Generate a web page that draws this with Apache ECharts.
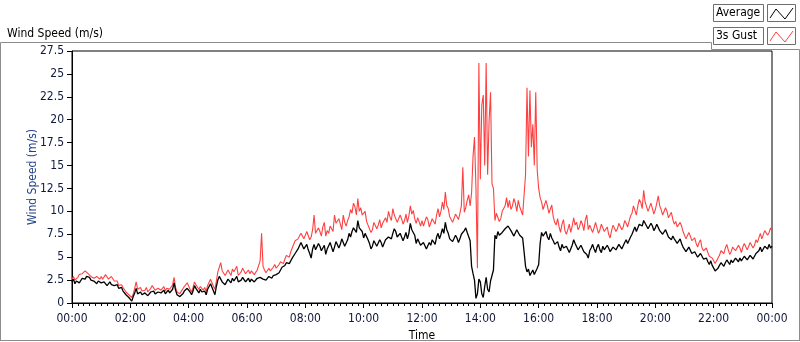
<!DOCTYPE html>
<html>
<head>
<meta charset="utf-8">
<script src="https://cdn.jsdelivr.net/npm/echarts@6/dist/echarts.min.js"></script>
<style>
  html, body { margin: 0; padding: 0; background: #fff; }
  #chart { width: 800px; height: 342px; }
</style>
</head>
<body>
<div id="chart"></div>
<script>
// one sample every 3 minutes, 00:00 .. 24:00 (20 per hour)
var times = [];
for (var i = 0; i <= 480; i++) times.push(i / 20);

var xTicks = ['00:00', '02:00', '04:00', '06:00', '08:00', '10:00', '12:00',
  '14:00', '16:00', '18:00', '20:00', '22:00', '00:00'];

var average = [
  2.3, 2.6, 2.1, 2.4, 2.5, 2.2, 2.4, 2.7, 2.8, 2.6, 2.9, 3.0, 2.8, 2.5, 2.6, 2.4, 2.3, 2.1, 2.4, 2.3,
  2.2, 2.0, 2.3, 2.4, 1.9, 2.1, 2.3, 2.0, 2.2, 1.9, 1.8, 2.0, 1.6, 1.8, 1.7, 1.3, 1.2, 0.9, 0.8, 0.6,
  0.4, 0.2, 0.7, 1.1, 1.6, 1.0, 0.9, 1.2, 0.9, 0.7, 1.1, 1.3, 0.8, 1.0, 1.2, 1.4, 1.3, 1.0, 1.0, 1.2,
  1.3, 1.1, 1.2, 1.4, 1.0, 1.2, 1.4, 1.1, 1.2, 1.5, 2.2, 1.4, 0.9, 1.1, 0.7, 0.9, 1.0, 1.3, 1.2, 1.6,
  1.5, 1.2, 0.9, 1.3, 1.9, 1.6, 1.4, 1.1, 1.5, 1.2, 1.0, 1.3, 0.9, 1.5, 1.7, 2.1, 2.0, 1.3, 0.9, 1.8,
  2.5, 2.9, 2.7, 2.3, 2.4, 2.0, 2.2, 2.6, 2.5, 2.2, 2.7, 2.4, 2.6, 2.9, 2.3, 2.1, 2.5, 2.8, 2.6, 2.3,
  2.5, 2.7, 2.3, 2.6, 2.6, 2.3, 2.4, 2.7, 2.5, 2.8, 2.9, 2.6, 2.8, 2.5, 2.6, 2.9, 2.9, 2.7, 3.0, 3.2,
  3.1, 2.9, 3.3, 3.6, 3.9, 3.7, 4.1, 4.4, 4.6, 4.3, 4.5, 4.9, 5.1, 5.4, 5.6, 5.9, 6.1, 6.6, 6.4, 5.9,
  6.0, 6.4, 5.8, 5.4, 4.9, 5.9, 6.4, 5.8, 6.0, 6.5, 6.2, 5.7, 5.8, 6.3, 5.3, 5.9, 6.0, 6.6, 6.1, 5.6,
  6.1, 6.7, 6.5, 6.0, 6.4, 7.0, 6.6, 6.2, 6.3, 6.9, 7.6, 7.2, 7.8, 8.2, 8.3, 7.7, 9.0, 8.2, 8.4, 7.8,
  7.1, 7.6, 7.4, 6.9, 6.5, 5.9, 6.2, 6.8, 6.8, 6.2, 6.4, 6.9, 6.6, 6.1, 6.3, 6.9, 6.7, 7.2, 7.4, 7.0,
  7.6, 8.1, 7.8, 7.2, 7.0, 7.6, 7.4, 6.8, 7.2, 7.7, 7.0, 7.6, 8.7, 8.0, 8.2, 7.4, 6.5, 7.0, 6.8, 6.3,
  6.1, 6.6, 6.5, 5.9, 6.0, 6.6, 6.3, 6.9, 6.8, 6.4, 7.2, 7.6, 7.0, 7.5, 8.1, 7.6, 8.8, 8.0, 7.6, 7.0,
  7.2, 6.7, 6.9, 7.4, 7.1, 6.6, 7.0, 7.5, 7.6, 7.9, 8.2, 7.7, 7.9, 6.8, 4.0, 3.2, 2.5, 0.5, 1.0, 2.6,
  2.3, 1.0, 0.6, 1.8, 2.8, 1.5, 1.2, 2.4, 3.0, 3.6, 7.4, 7.0, 7.8, 7.4, 7.2, 7.7, 7.6, 8.1, 8.0, 8.4,
  8.3, 7.9, 7.8, 7.3, 7.5, 8.0, 7.9, 7.4, 7.6, 7.1, 5.6, 4.0, 3.4, 3.7, 3.0, 3.3, 3.6, 3.1, 3.3, 3.8,
  4.2, 6.5, 7.7, 7.3, 7.4, 7.8, 7.2, 6.9, 7.6, 7.1, 6.8, 6.4, 6.3, 6.7, 6.1, 5.7, 6.4, 6.0, 5.8, 6.2,
  6.0, 5.5, 5.7, 6.3, 6.9, 6.5, 6.4, 5.8, 5.9, 6.3, 6.1, 5.6, 5.8, 5.3, 4.9, 5.7, 6.0, 6.4, 5.9, 5.5,
  6.1, 6.4, 5.8, 5.5, 6.2, 5.8, 5.9, 6.3, 6.0, 5.6, 5.7, 6.1, 6.2, 5.8, 6.0, 6.4, 6.3, 5.9, 6.1, 6.6,
  6.9, 6.5, 6.7, 7.2, 7.5, 7.9, 8.3, 7.8, 8.0, 8.6, 8.8, 8.4, 9.0, 8.7, 8.6, 8.1, 8.2, 8.7, 8.4, 7.9,
  8.2, 8.6, 8.4, 7.9, 8.0, 7.5, 7.6, 8.0, 7.8, 7.2, 7.4, 6.9, 7.3, 7.0, 7.0, 6.5, 6.7, 7.0, 6.5, 6.1,
  6.0, 5.6, 5.8, 6.1, 5.9, 5.4, 5.3, 5.6, 5.4, 5.0, 5.1, 5.4, 5.2, 4.8, 4.6, 4.9, 4.5, 4.2, 4.6, 4.1,
  3.8, 3.5, 3.4, 3.8, 4.1, 4.4, 4.3, 4.0, 4.4, 4.7, 4.5, 4.2, 4.7, 4.4, 4.6, 4.9, 4.8, 4.5, 4.9, 4.6,
  4.8, 5.1, 5.0, 4.7, 4.9, 5.2, 5.1, 4.8, 5.0, 5.4, 5.3, 5.7, 6.1, 5.6, 5.7, 6.2, 6.3, 5.9, 6.4, 6.0,
  6.2
];

var gust = [
  2.6, 2.9, 2.5, 2.7, 2.8, 3.1, 2.9, 3.2, 3.3, 3.5, 3.4, 3.2, 3.3, 2.9, 3.0, 2.7, 2.6, 2.9, 2.8, 2.6,
  2.9, 2.6, 2.5, 3.1, 3.0, 2.6, 2.6, 2.9, 2.8, 2.4, 2.2, 2.4, 1.9, 2.1, 2.0, 1.7, 1.5, 1.2, 1.1, 0.9,
  0.8, 0.6, 1.0, 1.6, 2.3, 1.5, 1.4, 1.7, 1.3, 1.1, 1.4, 1.7, 1.2, 1.4, 1.6, 1.9, 1.7, 1.4, 1.4, 1.6,
  1.6, 1.4, 1.5, 1.8, 1.3, 1.6, 1.8, 1.5, 1.6, 2.0, 2.8, 1.7, 1.2, 1.4, 1.0, 1.3, 1.4, 1.8, 1.9, 2.2,
  2.0, 1.5, 1.2, 1.7, 2.3, 2.0, 1.8, 1.5, 1.8, 1.6, 1.4, 1.7, 1.3, 1.9, 2.0, 2.6, 2.5, 1.8, 1.5, 2.4,
  3.4, 3.9, 4.4, 3.5, 3.6, 3.0, 3.2, 3.6, 3.3, 3.0, 3.7, 3.4, 3.6, 4.0, 3.0, 3.2, 3.4, 3.8, 3.6, 3.2,
  3.3, 3.6, 3.2, 3.5, 3.5, 3.1, 3.3, 3.6, 3.4, 4.6, 7.6, 4.0, 3.6, 3.3, 3.4, 3.8, 3.5, 3.7, 3.9, 4.2,
  3.8, 3.6, 4.2, 4.5, 4.6, 4.3, 4.8, 5.2, 5.3, 5.0, 5.6, 6.0, 6.2, 6.8, 6.6, 7.0, 7.1, 7.6, 7.4, 7.0,
  7.1, 7.8, 7.6, 6.9, 7.2, 8.0, 9.6, 7.6, 7.4, 8.2, 7.8, 7.3, 8.3, 8.8, 7.3, 7.9, 7.6, 8.4, 8.5, 7.8,
  9.6, 8.7, 8.5, 9.2, 8.6, 8.0, 9.6, 8.8, 8.4, 9.0, 9.4, 10.2, 9.8, 10.9, 10.5, 9.6, 11.4, 10.0, 10.4, 9.6,
  9.4, 10.0, 8.9, 8.5, 8.3, 7.7, 8.0, 8.8, 8.6, 8.1, 8.5, 9.1, 8.2, 8.7, 8.6, 9.3, 8.8, 10.0, 9.4, 9.0,
  10.3, 9.6, 9.5, 8.8, 8.9, 9.6, 9.2, 8.6, 9.0, 9.7, 8.8, 9.5, 10.6, 9.7, 10.1, 9.2, 8.7, 9.3, 8.9, 8.4,
  9.0, 8.4, 8.6, 9.4, 9.1, 8.3, 8.5, 9.2, 9.0, 8.6, 9.6, 10.3, 9.4, 10.0, 11.0, 10.2, 12.1, 10.6, 10.3, 9.4,
  9.3, 8.8, 9.0, 9.7, 9.6, 9.1, 9.8, 10.6, 14.8, 9.9, 10.4, 11.2, 11.8, 10.6, 12.0, 16.0, 18.1, 12.5, 3.8, 26.2,
  13.5, 21.6, 22.7, 15.0, 26.2, 14.0, 19.8, 23.0, 13.0, 12.5, 9.0, 9.8, 9.6, 8.9, 9.2, 10.0, 9.8, 10.6, 11.5, 10.4,
  11.2, 10.2, 10.6, 11.4, 10.9, 10.0, 11.2, 10.5, 10.3, 9.6, 9.8, 14.0, 23.5, 16.0, 23.2, 17.0, 19.5, 15.0, 23.0, 14.5,
  12.5, 11.5, 11.0, 10.2, 10.4, 11.2, 10.6, 9.8, 10.0, 10.7, 9.4, 8.8, 8.5, 9.2, 8.3, 7.7, 8.6, 9.1, 7.9, 7.5,
  8.0, 8.6, 7.7, 8.4, 9.3, 8.5, 8.8, 8.0, 8.3, 9.0, 8.6, 7.9, 9.1, 9.6, 8.0, 8.5, 8.3, 7.7, 8.2, 8.8,
  8.2, 7.6, 8.0, 8.6, 8.4, 7.8, 7.7, 8.3, 7.5, 7.1, 7.9, 8.5, 8.4, 7.8, 8.1, 8.7, 8.6, 8.0, 8.3, 9.0,
  8.7, 8.3, 8.9, 9.5, 9.8, 10.6, 10.1, 9.6, 10.6, 11.3, 11.0, 10.3, 12.3, 11.0, 10.8, 10.0, 10.0, 10.9, 10.3, 9.7,
  10.2, 10.9, 11.7, 10.6, 10.2, 9.6, 9.8, 10.4, 10.0, 9.3, 9.4, 9.9, 9.1, 8.6, 8.9, 8.3, 8.2, 8.8, 8.4, 7.8,
  7.6, 7.0, 7.2, 7.7, 7.3, 6.8, 6.7, 7.1, 6.5, 6.1, 6.6, 6.9, 6.0, 5.7, 5.6, 6.0, 5.5, 5.1, 5.3, 4.9,
  4.7, 4.3, 4.4, 4.9, 5.2, 5.7, 5.9, 5.4, 6.0, 6.4, 5.8, 5.3, 5.6, 6.1, 6.2, 5.7, 5.8, 6.3, 6.0, 5.5,
  6.1, 6.5, 6.3, 5.8, 6.0, 6.6, 6.4, 6.0, 6.3, 6.9, 6.6, 7.1, 7.6, 7.0, 7.2, 7.9, 8.1, 7.4, 7.7, 8.2,
  7.8
];

var FONT = '"DejaVu Sans Condensed", "DejaVu Sans", sans-serif';

var chart = echarts.init(document.getElementById('chart'));

function pairs(vals) {
  return vals.map(function (v, i) { return [times[i], v]; });
}

// legend row: text box + small plot icon
function legendRow(y, label, color) {
  return [
    { type: 'rect', shape: { x: 713.5, y: y + 0.5, width: 50, height: 17 },
      style: { fill: '#fff', stroke: '#6e6e6e', lineWidth: 1 } },
    { type: 'text', left: 716, top: y + 3,
      style: { text: label, fill: '#000', font: '12px ' + FONT } },
    { type: 'rect', shape: { x: 767.5, y: y + 0.5, width: 28, height: 17 },
      style: { fill: '#fff', stroke: '#6e6e6e', lineWidth: 1 } },
    { type: 'polyline',
      shape: { points: [[770, y + 14], [776, y + 5], [785, y + 15], [793, y + 4]] },
      style: { stroke: color, lineWidth: 1, fill: null } }
  ];
}

var option = {
  animation: false,
  backgroundColor: '#fff',
  title: {
    text: 'Wind Speed (m/s)',
    left: 2, top: 23,
    textStyle: { fontSize: 12, fontWeight: 'normal', color: '#000', fontFamily: FONT }
  },
  graphic: [
    { type: 'polyline', z: 0,
      shape: { points: [[0.5, 341], [0.5, 42.5], [711.5, 42.5], [711.5, 49.5], [799.5, 49.5], [799.5, 341]] },
      style: { stroke: '#8c8c8c', lineWidth: 1, fill: null } },
    { type: 'line', shape: { x1: 0, y1: 340.5, x2: 800, y2: 340.5 },
      style: { stroke: '#8c8c8c', lineWidth: 1 } }
  ].concat(legendRow(4, 'Average', '#000'), legendRow(27, '3s Gust', '#ff4040')),
  grid: {
    left: 72, top: 51, right: 28, bottom: 39,
    outerBoundsMode: 'none', containLabel: false,
    show: true, borderColor: '#000', borderWidth: 1, backgroundColor: '#fff'
  },
  xAxis: {
    type: 'value', min: 0, max: 24, interval: 2,
    name: 'Time', nameLocation: 'middle', nameGap: 27, nameMoveOverlap: false,
    nameTextStyle: { fontSize: 12, color: '#000', fontFamily: FONT },
    axisLine: { lineStyle: { color: '#000' } },
    axisTick: { inside: false, length: 5, lineStyle: { color: '#000' } },
    minorTick: { show: true, splitNumber: 10, length: 3, lineStyle: { color: '#000' } },
    splitLine: { show: false },
    axisLabel: {
      margin: 10, fontSize: 12, color: '#10183a', fontFamily: FONT,
      formatter: function (v) { return xTicks[Math.round(v / 2)]; }
    }
  },
  yAxis: {
    type: 'value', min: 0, max: 27.5, interval: 2.5,
    name: 'Wind Speed (m/s)', nameLocation: 'middle', nameGap: 33, nameMoveOverlap: false,
    nameTextStyle: { fontSize: 12, color: '#23428a', fontFamily: FONT },
    axisLine: { show: true, lineStyle: { color: '#000' } },
    axisTick: { show: true, inside: false, length: 5, lineStyle: { color: '#000' } },
    splitLine: { show: false },
    axisLabel: { margin: 8, fontSize: 12, color: '#10183a', fontFamily: FONT }
  },
  series: [
    {
      name: '3s Gust', type: 'line', data: pairs(gust),
      showSymbol: false, symbol: 'none',
      lineStyle: { color: '#ff4040', width: 1.1 }, z: 2
    },
    {
      name: 'Average', type: 'line', data: pairs(average),
      showSymbol: false, symbol: 'none',
      lineStyle: { color: '#000', width: 1.3 }, z: 3
    }
  ]
};

chart.setOption(option);
</script>
</body>
</html>
